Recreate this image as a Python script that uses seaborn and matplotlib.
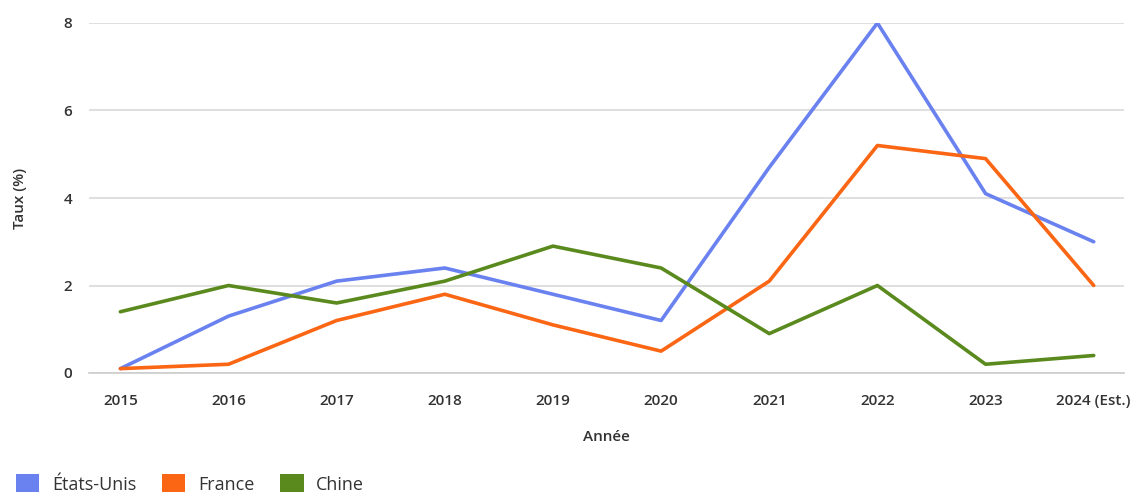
import matplotlib
matplotlib.use("Agg")
import matplotlib.pyplot as plt
from matplotlib.patches import Patch
import seaborn as sns
import pandas as pd

years = ["2015", "2016", "2017", "2018", "2019", "2020", "2021", "2022", "2023", "2024 (Est.)"]
etats_unis = [0.1, 1.3, 2.1, 2.4, 1.8, 1.2, 4.7, 8.0, 4.1, 3.0]
france = [0.1, 0.2, 1.2, 1.8, 1.1, 0.5, 2.1, 5.2, 4.9, 2.0]
chine = [1.4, 2.0, 1.6, 2.1, 2.9, 2.4, 0.9, 2.0, 0.2, 0.4]

series_names = ["États-Unis", "France", "Chine"]
colors = ["#6a81f0", "#fa6614", "#5a8a1e"]

rows = []
for name, vals in zip(series_names, [etats_unis, france, chine]):
    for i, (yr, v) in enumerate(zip(years, vals)):
        rows.append({"idx": i, "Année": yr, "Taux": v, "Pays": name})
df = pd.DataFrame(rows)

sns.set_theme(style="white")
plt.rcParams["font.family"] = ["Open Sans", "DejaVu Sans"]

fig = plt.figure(figsize=(11.34, 4.92), dpi=100)
ax = fig.add_axes([89 / 1134, 119 / 492, (1124 - 89) / 1134, 350 / 492])

sns.lineplot(data=df, x="idx", y="Taux", hue="Pays", hue_order=series_names,
             palette=colors, linewidth=2.6, ax=ax, legend=False, sort=False)

ax.set_xlim(-0.29, 9.28)
ax.set_ylim(0, 8)
ax.set_yticks([0, 2, 4, 6, 8])
ax.set_xticks(range(len(years)))
ax.set_xticklabels(years)

ax.grid(axis="y", color="#d9d9d9", linewidth=1.2)
ax.set_axisbelow(True)
for s in ["top", "right", "left"]:
    ax.spines[s].set_visible(False)
ax.spines["bottom"].set_color("#cccccc")
ax.spines["bottom"].set_linewidth(1.2)

ax.tick_params(axis="x", length=8, width=1.2, color="#cccccc", pad=7,
               labelsize=11, labelcolor="#333333")
ax.tick_params(axis="y", length=0, pad=12, labelsize=11, labelcolor="#333333")
for lab in ax.get_xticklabels() + ax.get_yticklabels():
    lab.set_fontweight("semibold")

ax.set_xlabel("Année", fontsize=11, color="#333333", fontweight="semibold", labelpad=16)
ax.set_ylabel("Taux (%)", fontsize=11, color="#333333", fontweight="semibold", labelpad=26)

handles = [Patch(facecolor=c, edgecolor="none", label=n) for n, c in zip(series_names, colors)]
fig.legend(handles=handles, loc="upper left", bbox_to_anchor=(16 / 1134, 18 / 492),
           ncol=3, frameon=False, fontsize=13, handlelength=1.28, handleheight=1.28,
           handletextpad=0.7, columnspacing=1.45, labelcolor="#333333",
           borderpad=0, borderaxespad=0)

fig.savefig("out.png", dpi=100, facecolor="white")
